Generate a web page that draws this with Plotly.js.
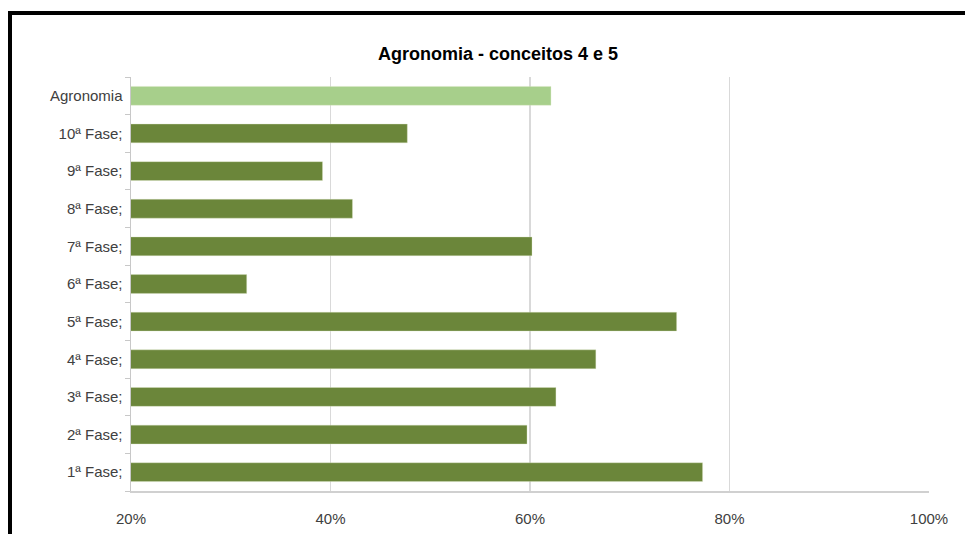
<!DOCTYPE html>
<html>
<head>
<meta charset="utf-8">
<script src="https://cdn.plot.ly/plotly-3.0.1.min.js"></script>
<style>
  html, body { margin: 0; padding: 0; background: #ffffff; }
  #wrap { position: relative; width: 965px; height: 534px; overflow: hidden; }
  #chart { position: absolute; left: 0; top: 0; width: 965px; height: 534px; }
  #frame { position: absolute; left: 8px; top: 11px; width: 965px; height: 540px;
           border-top: 4px solid #000; border-left: 4px solid #000; pointer-events: none; }
</style>
</head>
<body>
<div id="wrap">
  <div id="chart"></div>
  <div id="frame"></div>
</div>
<script>
// Categories listed bottom to top
const categories = ["1ª Fase;", "2ª Fase;", "3ª Fase;", "4ª Fase;", "5ª Fase;",
                    "6ª Fase;", "7ª Fase;", "8ª Fase;", "9ª Fase;", "10ª Fase;", "Agronomia"];
const values = [77.3, 59.7, 62.6, 66.6, 74.7, 31.6, 60.2, 42.2, 39.2, 47.7, 62.1];
const tickValues = [20, 40, 60, 80, 100];
const tickLabels = ["20%", "40%", "60%", "80%", "100%"];
const titleText = "Agronomia - conceitos 4 e 5";

const darkGreen = "#6b863a";
const lightGreen = "#a7cf8b";
const barColors = categories.map(c => c === "Agronomia" ? lightGreen : darkGreen);

const trace = {
  type: "bar",
  orientation: "h",
  x: values,
  y: categories,
  marker: { color: barColors, line: { color: "rgba(220,230,200,0.6)", width: 0.6 } },
  hoverinfo: "x+y"
};

const layout = {
  width: 965,
  height: 534,
  margin: { l: 131, r: 36, t: 77, b: 43 },
  paper_bgcolor: "#ffffff",
  plot_bgcolor: "#ffffff",
  bargap: 0.5,
  showlegend: false,
  font: { family: "Liberation Sans, Arial, sans-serif", size: 15, color: "#404040" },
  title: {
    text: "<b>" + titleText + "</b>",
    font: { family: "Liberation Sans, Arial, sans-serif", size: 18, color: "#000000" },
    xref: "container", yref: "container",
    x: 0.516, xanchor: "center",
    y: 0.899, yanchor: "middle"
  },
  xaxis: {
    range: [20, 100],
    tickvals: tickValues,
    ticktext: tickLabels,
    showgrid: true,
    gridcolor: "#d9d9d9",
    gridwidth: 1.5,
    zeroline: false,
    showline: true,
    linecolor: "#d0d0d0",
    linewidth: 1.5,
    ticks: "",
    ticklabelstandoff: 13,
    fixedrange: true
  },
  yaxis: {
    type: "category",
    categoryorder: "array",
    categoryarray: categories,
    showgrid: false,
    zeroline: false,
    showline: true,
    linecolor: "#c8c8c8",
    linewidth: 1.5,
    ticks: "outside",
    tickson: "boundaries",
    ticklen: 5,
    tickcolor: "#c8c8c8",
    ticklabelstandoff: 4,
    fixedrange: true
  }
};

Plotly.newPlot("chart", [trace], layout, { displayModeBar: false, staticPlot: true });
</script>
</body>
</html>
